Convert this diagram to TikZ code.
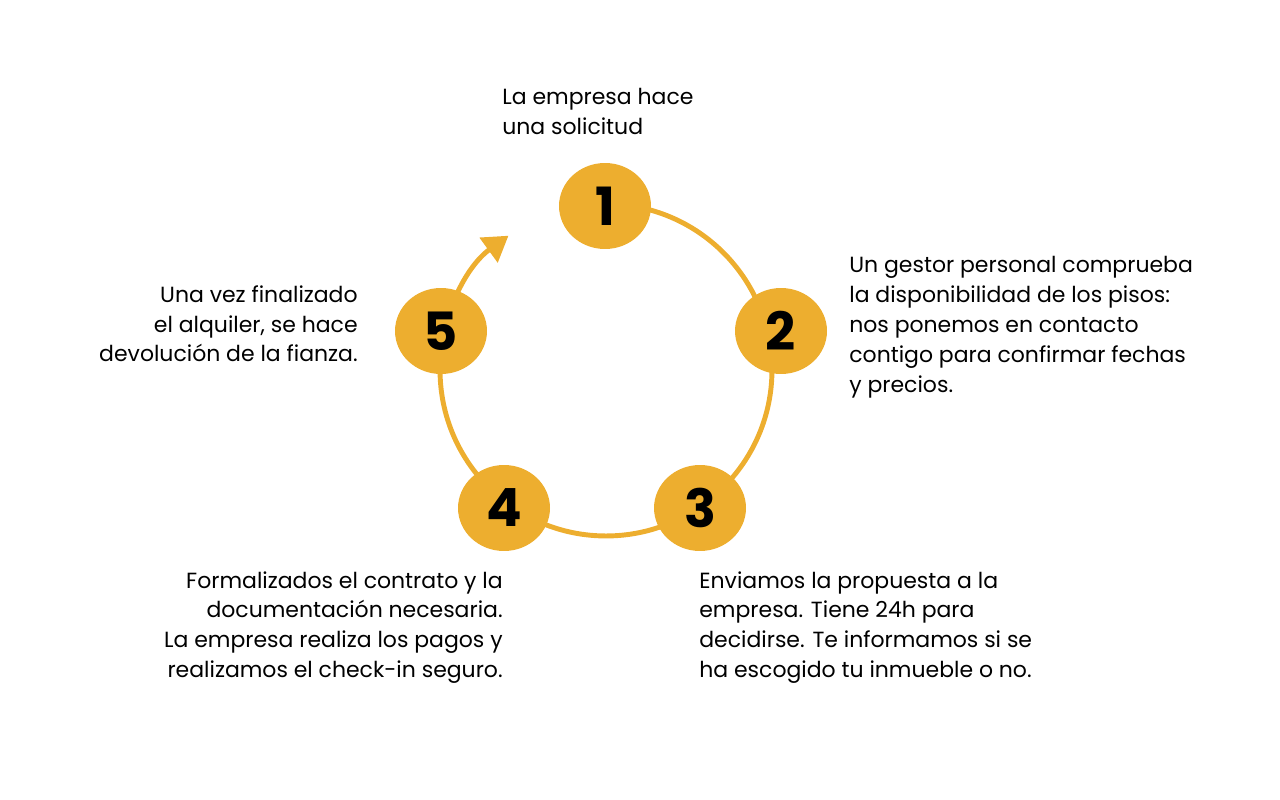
\documentclass[tikz,border=0pt]{standalone}
\usepackage{fontspec}
\setmainfont{Poppins}
\definecolor{ringyellow}{HTML}{EDAE2F}
\usetikzlibrary{arrows.meta, shapes.geometric}

\begin{document}
\begin{tikzpicture}[x=0.02cm, y=-0.02cm,
    stepdot/.style={ellipse, fill=ringyellow, minimum width=1.84cm,
                    minimum height=1.72cm, inner sep=0pt,
                    font=\fontsize{30}{30}\selectfont\bfseries},
    note/.style={font=\fontsize{12.5}{17}\selectfont, inner sep=0pt}
  ]
    \useasboundingbox (0,0) rectangle (1280,800);
    % ring with arrow
    \coordinate (mid) at (606,370);
    \draw[ringyellow, line width=2.8pt, -{Triangle[length=14pt,width=17pt]}]
      (mid) ++(90:3.32cm) arc[start angle=90, end angle=-234, radius=3.32cm];
    % steps
    \node[stepdot] (s1) at (605,206) {1};
    \node[stepdot] (s2) at (781,331) {2};
    \node[stepdot] (s3) at (700,508) {3};
    \node[stepdot] (s4) at (504,508) {4};
    \node[stepdot] (s5) at (441,331) {5};
    % texts
    \node[note, anchor=north west, align=left] (t1) at (502,88)
      {La empresa hace\\una solicitud};
    \node[note, anchor=north west, align=left] (t2) at (849,256)
      {Un gestor personal comprueba\\la disponibilidad de los pisos:\\nos ponemos en contacto\\contigo para confirmar fechas\\y precios.};
    \node[note, anchor=north west, align=left] (t3) at (699,571)
      {Enviamos la propuesta a la\\empresa. Tiene 24h para\\decidirse. Te informamos si se\\ha escogido tu inmueble o no.};
    \node[note, anchor=north east, align=right] (t4) at (503,571)
      {Formalizados el contrato y la\\documentación necesaria.\\La empresa realiza los pagos y\\realizamos el check-in seguro.};
    \node[note, anchor=north east, align=right] (t5) at (358,285)
      {Una vez finalizado\\el alquiler, se hace\\devolución de la fianza.};
\end{tikzpicture}
\end{document}
